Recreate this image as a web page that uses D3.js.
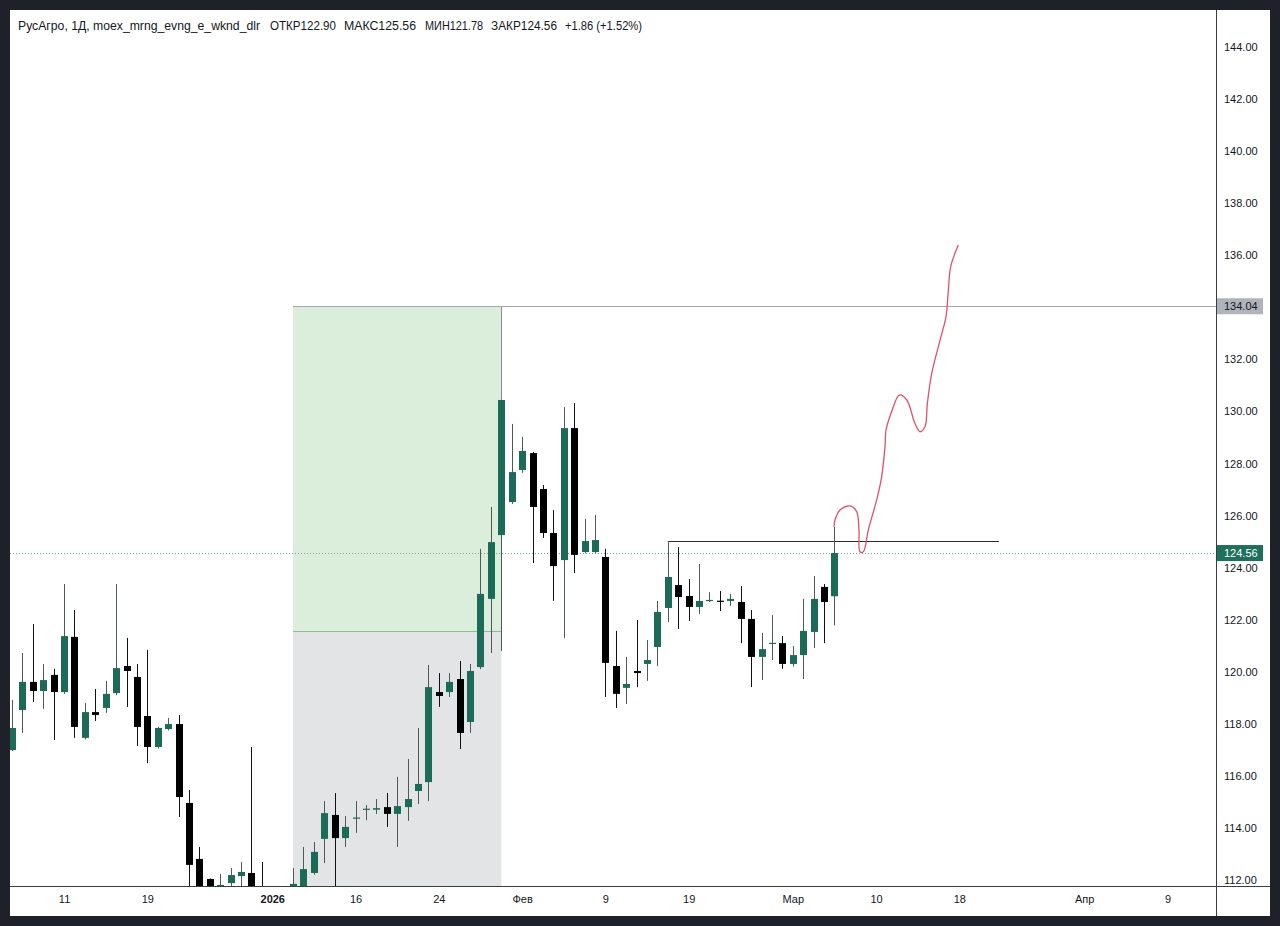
<!DOCTYPE html>
<html lang="ru">
<head>
  <meta charset="UTF-8">
  <title>РусАгро, 1Д</title>
  <script src="https://d3js.org/d3.v7.min.js"></script>
  <style>
    html, body { margin: 0; padding: 0; background: #1e212a; }
    svg { display: block; font-family: "Liberation Sans", Arial, sans-serif; }
  </style>
</head>
<body>
  <div id="chart"></div>

  <script>
    // свечи: индекс бара = позиция в массиве
    const openP  = [116.99,118.53,119.61,119.26,119.88,119.22,121.34,117.46,118.45,118.61,
                    119.18,120.22,119.80,118.30,117.11,117.80,117.99,114.96,112.81,112.04,
                    111.60,111.88,112.15,112.27,111.50,111.30,111.00,111.50,111.70,112.27,
                    113.58,114.50,113.61,114.38,114.73,114.70,114.80,114.54,114.80,115.42,
                    115.76,119.22,119.22,119.72,118.07,120.18,122.80,125.25,126.52,127.75,
                    128.40,127.02,125.33,124.29,129.36,124.60,124.60,124.41,120.22,119.38,
                    120.03,120.30,120.95,122.45,123.33,122.91,122.49,122.74,122.73,122.72,
                    122.68,122.03,120.57,121.10,121.10,120.30,120.64,121.53,123.26,122.90];
    const highP  = [118.92,120.72,121.83,120.30,120.11,123.37,122.37,118.80,119.34,119.65,
                    123.37,121.30,120.30,120.84,117.88,118.22,118.34,115.46,113.27,112.06,
                    112.23,112.46,112.69,117.11,112.69,111.60,111.50,112.46,113.27,113.46,
                    115.03,115.34,114.46,115.03,114.88,115.11,115.34,115.96,116.65,117.84,
                    120.26,119.95,119.95,120.41,120.30,124.72,126.33,130.44,129.52,129.02,
                    128.45,127.17,126.21,130.17,130.32,125.87,126.02,124.72,121.57,120.57,
                    121.99,121.22,122.72,125.02,124.79,123.56,124.14,123.06,123.10,122.99,
                    123.29,122.37,121.49,122.18,121.37,120.99,122.80,123.68,123.37,125.56];
    const lowP   = [116.95,117.65,118.84,118.57,117.38,119.15,117.46,117.40,118.11,118.42,
                    119.10,118.65,117.15,116.49,117.05,117.75,114.42,111.60,111.40,111.30,
                    111.50,111.70,111.50,111.40,111.00,110.80,110.60,111.30,111.50,112.20,
                    112.65,111.60,113.27,113.81,114.30,114.54,114.04,113.27,114.27,114.92,
                    115.03,118.65,119.03,117.03,117.65,120.10,120.72,120.80,126.45,127.64,
                    124.18,125.14,122.72,121.30,123.79,124.55,124.55,119.03,118.61,118.76,
                    119.41,119.65,120.22,121.91,121.64,121.95,122.22,122.68,122.33,122.53,
                    121.10,119.41,119.68,120.45,120.11,120.20,119.72,120.91,121.10,121.78];
    const closeP = [117.84,119.61,119.26,119.68,119.22,121.37,117.88,118.45,118.34,119.15,
                    120.14,120.03,117.88,117.11,117.84,117.99,115.19,112.58,111.60,111.50,
                    111.81,112.19,112.31,111.60,111.30,111.00,111.20,111.85,112.42,113.08,
                    114.57,113.61,114.04,114.40,114.74,114.76,114.54,114.84,115.11,115.69,
                    119.41,119.07,119.61,117.65,120.03,122.99,124.98,130.44,127.67,128.48,
                    126.33,125.33,124.06,129.36,124.49,125.02,125.06,120.34,119.15,119.53,
                    119.95,120.45,122.30,123.64,122.87,122.49,122.72,122.76,122.72,122.80,
                    122.03,120.57,120.87,121.11,120.30,120.64,121.57,122.80,122.68,124.56];

    // подписи шкалы времени (по индексу бара)
    const timeTickIdx    = [5, 13, 25, 33, 41, 49, 57, 65, 75, 83, 91, 103, 111];
    const timeTickLabels = ["11", "19", "2026", "16", "24", "Фев", "9", "19", "Мар", "10", "18", "Апр", "9"];
    const priceTicks = d3.range(112, 145, 2);

    // инструмент "длинная позиция"
    const posStartIdx = 27, posEndIdx = 47;
    const targetPrice = 134.04, entryPrice = 121.55, stopPrice = 108.5;

    // горизонтальный отрезок уровня
    const levelStartIdx = 63, levelEndIdx = 94.8, levelPrice = 125.02;
    const lastPrice = 124.56;

    // нарисованная от руки кривая
    const drawIdx   = [78.96,79.06,79.54,80.50,81.14,81.36,81.46,81.78,82.26,83.06,83.54,83.86,83.96,
                       84.50,85.24,85.95,86.74,87.22,87.70,87.93,88.35,89.15,89.72,89.95,90.17,90.90];
    const drawPrice = [125.57,125.83,126.21,126.37,126.15,125.45,124.61,124.61,125.45,126.60,127.49,128.65,129.29,
                       129.99,130.63,130.44,129.54,129.22,129.41,130.31,131.46,132.74,133.64,134.67,135.56,136.39];

    const width = 1280, height = 926;
    const plotL = 10, plotR = 1216, plotT = 10, plotB = 886;

    const svg = d3.select("#chart").append("svg")
      .attr("width", width)
      .attr("height", height);

    svg.append("rect").attr("width", width).attr("height", height).attr("fill", "#1e212a");
    svg.append("rect").attr("x", 10).attr("y", 10).attr("width", 1260).attr("height", 906).attr("fill", "#fff");

    const x = d3.scaleLinear().domain([0, 100]).range([12, 1053]);
    const y = d3.scaleLinear().domain([112, 144]).range([880, 47]);

    svg.append("clipPath").attr("id", "plot-clip")
      .append("rect")
      .attr("x", plotL).attr("y", plotT)
      .attr("width", plotR - plotL).attr("height", plotB - plotT);

    const plot = svg.append("g").attr("clip-path", "url(#plot-clip)");

    // зоны позиции
    plot.append("rect")
      .attr("x", x(posStartIdx)).attr("y", y(targetPrice))
      .attr("width", x(posEndIdx) - x(posStartIdx))
      .attr("height", y(entryPrice) - y(targetPrice))
      .attr("fill", "#dbeedc");
    plot.append("rect")
      .attr("x", x(posStartIdx)).attr("y", y(entryPrice))
      .attr("width", x(posEndIdx) - x(posStartIdx))
      .attr("height", y(stopPrice) - y(entryPrice))
      .attr("fill", "#e3e4e6");
    plot.append("line")
      .attr("x1", x(posStartIdx)).attr("x2", x(posEndIdx))
      .attr("y1", Math.round(y(entryPrice)) + 0.5).attr("y2", Math.round(y(entryPrice)) + 0.5)
      .attr("stroke", "#86c08e").attr("stroke-width", 1);
    plot.append("line")
      .attr("x1", Math.round(x(posEndIdx)) + 0.5).attr("x2", Math.round(x(posEndIdx)) + 0.5)
      .attr("y1", y(targetPrice)).attr("y2", y(entryPrice))
      .attr("stroke", "#8a8d94").attr("stroke-width", 1);

    // линия цели до шкалы
    plot.append("line")
      .attr("x1", x(posStartIdx)).attr("x2", plotR)
      .attr("y1", Math.round(y(targetPrice)) + 0.5).attr("y2", Math.round(y(targetPrice)) + 0.5)
      .attr("stroke", "#a3a6ad").attr("stroke-width", 1);

    // линия последней цены
    plot.append("line")
      .attr("x1", plotL).attr("x2", plotR)
      .attr("y1", Math.round(y(lastPrice)) + 0.5).attr("y2", Math.round(y(lastPrice)) + 0.5)
      .attr("stroke", "#6fa597").attr("stroke-width", 1)
      .attr("stroke-dasharray", "1,2");

    // уровень
    plot.append("line")
      .attr("x1", x(levelStartIdx)).attr("x2", x(levelEndIdx))
      .attr("y1", Math.round(y(levelPrice)) + 0.5).attr("y2", Math.round(y(levelPrice)) + 0.5)
      .attr("stroke", "#2a2a2a").attr("stroke-width", 1);

    // свечи
    const bars = d3.range(openP.length);
    const up = i => closeP[i] >= openP[i];

    plot.append("g").selectAll("line")
      .data(bars)
      .enter().append("line")
      .attr("x1", i => Math.round(x(i)) + 0.5)
      .attr("x2", i => Math.round(x(i)) + 0.5)
      .attr("y1", i => y(highP[i]))
      .attr("y2", i => y(lowP[i]))
      .attr("stroke", i => up(i) ? "#4f5a57" : "#111")
      .attr("stroke-width", 1);

    plot.append("g").selectAll("rect")
      .data(bars)
      .enter().append("rect")
      .attr("x", i => Math.round(x(i)) - 3)
      .attr("width", 7)
      .attr("y", i => y(Math.max(openP[i], closeP[i])))
      .attr("height", i => Math.max(1.2, Math.abs(y(openP[i]) - y(closeP[i]))))
      .attr("fill", i => up(i) ? "#1b6b58" : "#000");

    // кривая от руки
    const curve = d3.line()
      .x(i => x(drawIdx[i]))
      .y(i => y(drawPrice[i]))
      .curve(d3.curveCatmullRom.alpha(0.5));
    plot.append("path")
      .attr("d", curve(d3.range(drawIdx.length)))
      .attr("fill", "none")
      .attr("stroke", "#dc5368")
      .attr("stroke-width", 1.3);

    // рамки шкал
    svg.append("line")
      .attr("x1", plotR + 0.5).attr("x2", plotR + 0.5).attr("y1", 10).attr("y2", 916)
      .attr("stroke", "#3a3d44");
    svg.append("line")
      .attr("x1", 10).attr("x2", 1270).attr("y1", plotB + 0.5).attr("y2", plotB + 0.5)
      .attr("stroke", "#3a3d44");

    // ось цен
    const yAxis = svg.append("g")
      .attr("transform", `translate(${plotR},0)`)
      .call(d3.axisRight(y).tickValues(priceTicks).tickFormat(d3.format(".2f")).tickSize(0).tickPadding(8));
    yAxis.select(".domain").remove();
    yAxis.selectAll("text").attr("fill", "#131722").style("font-size", "11px");

    // метки цен
    const priceTag = (v, bg, fg) => {
      const g = svg.append("g").attr("transform", `translate(${plotR + 1},${y(v)})`);
      g.append("rect").attr("x", 0).attr("y", -8).attr("width", 46).attr("height", 16).attr("fill", bg);
      g.append("text").attr("x", 7).attr("dy", "0.35em").attr("fill", fg)
        .style("font-size", "11px").text(v.toFixed(2));
    };
    priceTag(targetPrice, "#b0b3ba", "#131722");
    priceTag(lastPrice, "#1e6f5c", "#fff");

    // ось времени
    const xAxis = svg.append("g")
      .attr("transform", `translate(0,${plotB})`)
      .call(d3.axisBottom(x).tickValues(timeTickIdx)
        .tickFormat((d, i) => timeTickLabels[i]).tickSize(0).tickPadding(9));
    xAxis.select(".domain").remove();
    xAxis.selectAll("text")
      .attr("fill", "#131722")
      .style("font-size", "11px")
      .style("font-weight", (d, i) => timeTickLabels[i] === "2026" ? "bold" : "normal");

    // заголовок
    const titleParts = ["РусАгро, 1Д, moex_mrng_evng_e_wknd_dlr", "ОТКР122.90", "МАКС125.56",
                        "МИН121.78", "ЗАКР124.56", "+1.86 (+1.52%)"];
    const titleX = [18, 270, 344, 425, 491, 565];
    const titleW = [242, 66, 72, 58, 66, 77];
    svg.append("g").selectAll("text")
      .data(titleParts)
      .enter().append("text")
      .attr("x", (d, i) => titleX[i])
      .attr("y", 30)
      .attr("textLength", (d, i) => titleW[i])
      .attr("lengthAdjust", "spacingAndGlyphs")
      .attr("fill", "#131722")
      .style("font-size", "12px")
      .text(d => d);
  </script>
</body>
</html>
